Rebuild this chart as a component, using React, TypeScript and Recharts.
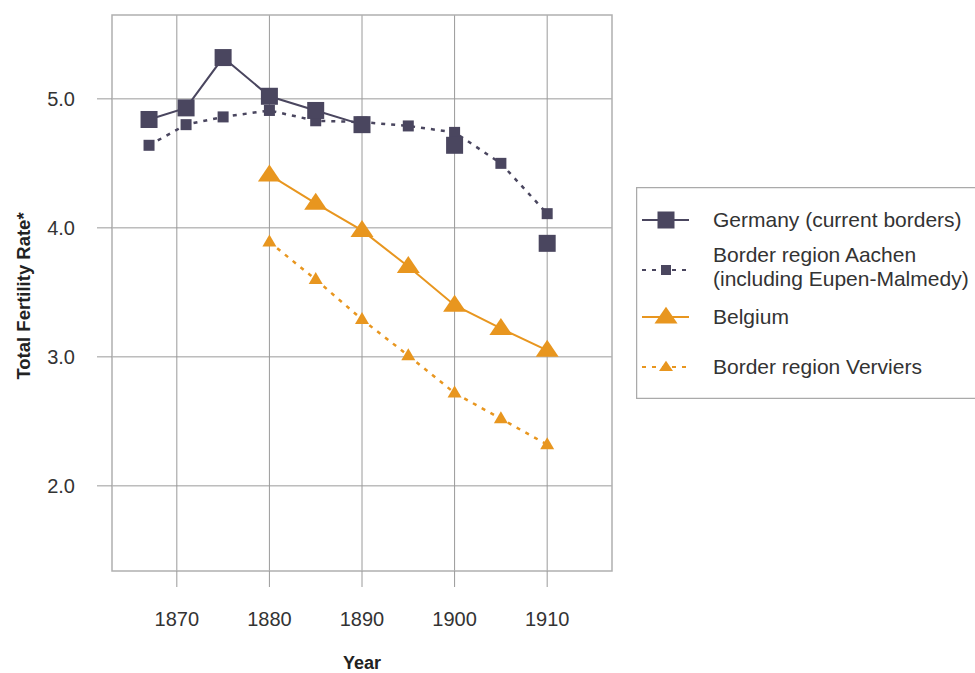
import { LineChart, Line, XAxis, YAxis, CartesianGrid, ReferenceArea, Legend } from "recharts";

const years = [1867, 1871, 1875, 1880, 1885, 1890, 1895, 1900, 1905, 1910];
const germany = [4.84, 4.93, 5.32, 5.02, 4.91, 4.8, null, 4.64, null, 3.88];
const aachen = [4.64, 4.8, 4.86, 4.91, 4.83, 4.82, 4.79, 4.74, 4.5, 4.11];
const belgium = [null, null, null, 4.41, 4.19, 3.98, 3.7, 3.4, 3.22, 3.05];
const verviers = [null, null, null, 3.89, 3.6, 3.29, 3.01, 2.72, 2.52, 2.32];

const xTicks = [1870, 1880, 1890, 1900, 1910];
const yTicks = [2, 3, 4, 5];

const NAVY = "#4a465f";
const ORANGE = "#e8961f";
const FONT = "'Liberation Sans', Arial, sans-serif";

const data = years.map((year, i) => ({
  year,
  germany: germany[i],
  aachen: aachen[i],
  belgium: belgium[i],
  verviers: verviers[i],
}));

function squareDot(side: number, color: string) {
  return (props: any) => {
    const { cx, cy, value, index } = props;
    if (value == null || cy == null) return <g key={index} />;
    return <rect key={index} x={cx - side / 2} y={cy - side / 2} width={side} height={side} fill={color} />;
  };
}

function triangleDot(w: number, h: number, color: string) {
  return (props: any) => {
    const { cx, cy, value, index } = props;
    if (value == null || cy == null) return <g key={index} />;
    const pts = `${cx},${cy - h * 0.62} ${cx + w / 2},${cy + h * 0.38} ${cx - w / 2},${cy + h * 0.38}`;
    return <polygon key={index} points={pts} fill={color} />;
  };
}

const legendItems = [
  { lines: ["Germany (current borders)"], color: NAVY, dash: undefined, kind: "sq", size: 17 },
  { lines: ["Border region Aachen", "(including Eupen-Malmedy)"], color: NAVY, dash: "4 6", kind: "sq", size: 10 },
  { lines: ["Belgium"], color: ORANGE, dash: undefined, kind: "tri", size: 23 },
  { lines: ["Border region Verviers"], color: ORANGE, dash: "4 6", kind: "tri", size: 14 },
];

function LegendBox() {
  const rows = [33, 83, 130, 180];
  return (
    <svg width={345} height={212} style={{ display: "block" }}>
      <rect x={0.5} y={0.5} width={350} height={211} fill="#fff" stroke="#aaa" strokeWidth={1.5} />
      {legendItems.map((it, i) => {
        const cy = rows[i];
        const s = it.size;
        return (
          <g key={i}>
            <line x1={6} x2={53} y1={cy} y2={cy} stroke={it.color} strokeWidth={2} strokeDasharray={it.dash} />
            {it.kind === "sq" ? (
              <rect x={30 - s / 2} y={cy - s / 2} width={s} height={s} fill={it.color} />
            ) : (
              <polygon
                points={`${30},${cy - s * 0.45} ${30 + s / 2},${cy + s * 0.28} ${30 - s / 2},${cy + s * 0.28}`}
                fill={it.color}
              />
            )}
            {it.lines.length === 1 ? (
              <text x={77} y={cy + 7} fontSize={21} fill="#333" fontFamily={FONT}>
                {it.lines[0]}
              </text>
            ) : (
              <text x={77} y={cy - 8} fontSize={21} fill="#333" fontFamily={FONT}>
                <tspan x={77}>{it.lines[0]}</tspan>
                <tspan x={77} dy={24}>{it.lines[1]}</tspan>
              </text>
            )}
          </g>
        );
      })}
    </svg>
  );
}

const yLabel = (props: any) => {
  const vb = props.viewBox || {};
  const cx = 23;
  const cy = (vb.y ?? 15) + (vb.height ?? 556) / 2 + 3;
  return (
    <text
      x={cx}
      y={cy}
      transform={`rotate(-90 ${cx} ${cy})`}
      textAnchor="middle"
      dominantBaseline="central"
      fontSize={18.5}
      fontWeight="bold"
      fill="#222"
      fontFamily={FONT}
    >
      Total Fertility Rate*
    </text>
  );
};

export default function App() {
  return (
    <div style={{ position: "absolute", left: 0, top: 0, fontFamily: FONT }}>
      <LineChart width={975} height={673} data={data} margin={{ top: 15, right: 363, bottom: 0, left: 0 }}>
        <CartesianGrid stroke="#9a9a9a" strokeWidth={1} horizontalValues={yTicks} verticalValues={xTicks} />
        <XAxis
          dataKey="year"
          type="number"
          domain={[1863, 1917]}
          ticks={xTicks}
          height={102}
          axisLine={false}
          tickLine={{ stroke: "#9a9a9a" }}
          tickSize={16}
          tickMargin={25}
          tick={{ fontSize: 20, fill: "#333", fontFamily: FONT }}
          label={{ value: "Year", position: "insideBottom", offset: 4, fontSize: 18, fontWeight: "bold", fill: "#222" }}
        />
        <YAxis
          type="number"
          domain={[1.34, 5.65]}
          ticks={yTicks}
          width={112}
          axisLine={false}
          tickLine={{ stroke: "#9a9a9a" }}
          tickSize={15}
          tickMargin={22}
          tickFormatter={(v: number) => v.toFixed(1)}
          tick={{ fontSize: 20, fill: "#333", fontFamily: FONT }}
          label={{ content: yLabel }}
        />
        <ReferenceArea x1={1863} x2={1917} y1={1.34} y2={5.65} fill="none" stroke="#b0b0b0" strokeWidth={1.5} />
        <Line
          dataKey="aachen"
          stroke={NAVY}
          strokeWidth={2.5}
          strokeDasharray="4 6"
          dot={squareDot(11, NAVY)}
          activeDot={false}
          isAnimationActive={false}
        />
        <Line
          dataKey="germany"
          stroke={NAVY}
          strokeWidth={2}
          dot={squareDot(17, NAVY)}
          activeDot={false}
          isAnimationActive={false}
        />
        <Line
          dataKey="verviers"
          stroke={ORANGE}
          strokeWidth={2.5}
          strokeDasharray="4 6"
          dot={triangleDot(14, 12, ORANGE)}
          activeDot={false}
          isAnimationActive={false}
        />
        <Line
          dataKey="belgium"
          stroke={ORANGE}
          strokeWidth={2}
          dot={triangleDot(23, 17, ORANGE)}
          activeDot={false}
          isAnimationActive={false}
        />
        <Legend
          layout="horizontal"
          verticalAlign="middle"
          align="center"
          content={() => <LegendBox />}
          wrapperStyle={{ left: 636, top: 187, width: 345, height: 212 }}
        />
      </LineChart>
    </div>
  );
}
